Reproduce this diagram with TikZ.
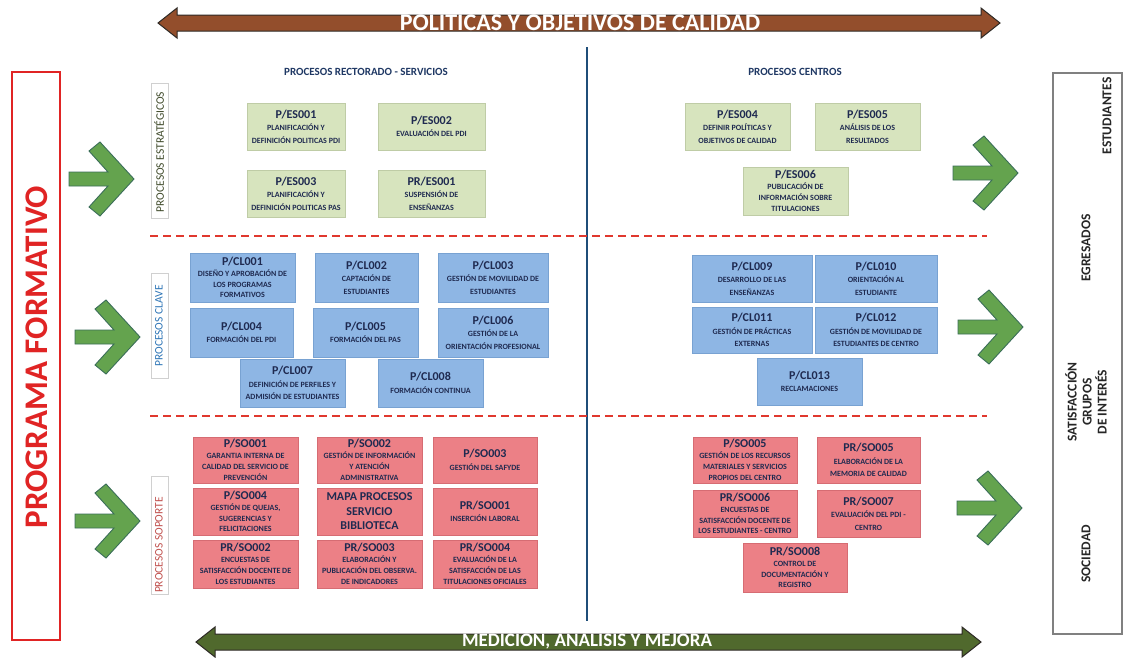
\documentclass[tikz,border=0pt]{standalone}
\usepackage{fontspec}
\setmainfont{Carlito}
\definecolor{navy}{HTML}{1F3864}
\definecolor{desccol}{HTML}{1F2A50}
\definecolor{esfill}{HTML}{D7E4BE}
\definecolor{esedge}{HTML}{BFCCA6}
\definecolor{clfill}{HTML}{8EB6E4}
\definecolor{cledge}{HTML}{78A2D2}
\definecolor{sofill}{HTML}{EC8086}
\definecolor{soedge}{HTML}{D66C73}
\definecolor{topbrown}{HTML}{934E2C}
\definecolor{botgreen}{HTML}{50692D}
\definecolor{arrdark}{HTML}{2E2A26}
\definecolor{agreen}{HTML}{64A34E}
\definecolor{aedge}{HTML}{3A6E58}
\definecolor{vline}{HTML}{1F4E79}
\definecolor{dashred}{HTML}{E0382E}
\definecolor{progred}{HTML}{E02424}
\definecolor{boxgray}{HTML}{808080}
\definecolor{labgray}{HTML}{D0D0D0}
\definecolor{esgreen}{HTML}{3F4A2A}
\definecolor{clblue}{HTML}{2E75B6}
\definecolor{sored}{HTML}{C0504D}
\definecolor{stake}{HTML}{262626}
\newcommand\pc[1]{{\fontsize{12}{12}\selectfont #1}}
\newcommand\pnode[7]{\node[#2, minimum width={#5-#3}, minimum height={#6-#4}] (#1) at ({(#3+#5)/2},{(#4+#6)/2}) {#7};}
\tikzset{
  pbox/.style={align=center, inner sep=0pt, text=desccol, font=\bfseries\fontsize{8}{12.5}\selectfont},
  dense/.style={font=\bfseries\fontsize{8}{10.8}\selectfont},
  esbox/.style={pbox, fill=esfill, draw=esedge, line width=0.8pt},
  clbox/.style={pbox, fill=clfill, draw=cledge, line width=0.8pt},
  sobox/.style={pbox, fill=sofill, draw=soedge, line width=0.8pt},
  sidetext/.style={rotate=90, font=\fontsize{11.5}{12}\selectfont, inner sep=0pt},
  sectitle/.style={text=navy, font=\bfseries\fontsize{11}{12}\selectfont, inner sep=0pt},
  stktext/.style={rotate=90, text=stake, align=center, font=\bfseries\fontsize{13.5}{15}\selectfont, inner sep=0pt},
  sep/.style={draw=dashred, line width=1.4pt, dash pattern=on 8pt off 5pt},
  garrow/.pic={
    \fill[agreen, draw=aedge, line width=0.9pt, line join=miter]
      (0,-7) -- (39,-7) -- (20,-28) -- (31,-37) -- (65,0) -- (31,37) -- (20,28) -- (39,7) -- (0,7) -- cycle;
  },
}
\begin{document}
\begin{tikzpicture}[x=1pt,y=-1pt]
\useasboundingbox[fill=white] (0,0) rectangle (1124,657);

% ---- top and bottom double arrows
\fill[topbrown, draw=arrdark, line width=1pt]
  (158,23) -- (177,8) -- (177,15) -- (981,15) -- (981,8) -- (1000,23) -- (981,38) -- (981,31) -- (177,31) -- (177,38) -- cycle;
\node[text=white, font=\bfseries\fontsize{24}{24}\selectfont, inner sep=0pt] (pol) at (580,23) {POLITICAS Y OBJETIVOS DE CALIDAD};

\fill[botgreen, draw=arrdark, line width=1pt]
  (196,642) -- (215,627) -- (215,634) -- (962,634) -- (962,627) -- (981,642) -- (962,657) -- (962,650) -- (215,650) -- (215,657) -- cycle;
\node[text=white, font=\bfseries\fontsize{19}{19}\selectfont, inner sep=0pt] (med) at (587,642) {MEDICION, ANALISIS Y MEJORA};

% ---- vertical divider and dashed separators
\coordinate (vtop) at (587,47);
\coordinate (vbot) at (587,621);
\draw[vline, line width=2pt] (vtop) -- (vbot);
\coordinate (d1a) at (150,236); \coordinate (d1b) at (987,236);
\coordinate (d2a) at (150,416); \coordinate (d2b) at (987,416);
\draw[sep] (d1a) -- (d1b);
\draw[sep] (d2a) -- (d2b);

% ---- left box
\draw[progred, line width=1.5pt] (12,72) rectangle (60,640);
\node[rotate=90, text=progred, font=\bfseries\fontsize{33}{33}\selectfont, inner sep=0pt] (prog) at (37,357) {PROGRAMA FORMATIVO};

% ---- right box
\draw[boxgray, line width=1.5pt] (1053,73) rectangle (1122,634);
\node[stktext] (estu) at (1107,116) {ESTUDIANTES};
\node[stktext] (egre) at (1086,248) {EGRESADOS};
\node[stktext] (sati) at (1086,402) {SATISFACCIÓN\\GRUPOS\\DE INTERÉS};
\node[stktext] (soci) at (1086,554) {SOCIEDAD};

% ---- green arrows
\pic at (69,179) {garrow};
\pic at (75,337) {garrow};
\pic at (75,521) {garrow};
\pic at (953,173) {garrow};
\pic at (958,327) {garrow};
\pic at (957,508) {garrow};

% ---- side labels
\draw[labgray, line width=0.6pt] (151,83) rectangle (168,218);
\node[sidetext, text=esgreen] (labes) at (159,152) {PROCESOS ESTRATÉGICOS};
\draw[labgray, line width=0.6pt] (151,273) rectangle (168,378);
\node[sidetext, text=clblue] (labcl) at (159,326) {PROCESOS CLAVE};
\draw[labgray, line width=0.6pt] (151,476) rectangle (168,594);
\node[sidetext, text=sored] (labso) at (159,545) {PROCESOS SOPORTE};

% ---- section titles
\node[sectitle] (tleft) at (366,72) {PROCESOS RECTORADO - SERVICIOS};
\node[sectitle] (tright) at (795,72) {PROCESOS CENTROS};

% ---- strategic
\pnode{es1}{esbox}{247}{103}{345}{150}{\pc{P/ES001}\\PLANIFICACIÓN Y\\DEFINICIÓN POLITICAS PDI}
\pnode{es2}{esbox}{378}{103}{485}{150}{\pc{P/ES002}\\EVALUACIÓN DEL PDI}
\pnode{es3}{esbox}{247}{170}{345}{217}{\pc{P/ES003}\\PLANIFICACIÓN Y\\DEFINICIÓN POLITICAS PAS}
\pnode{pres1}{esbox}{378}{170}{485}{217}{\pc{PR/ES001}\\SUSPENSIÓN DE\\ENSEÑANZAS}
\pnode{es4}{esbox}{685}{103}{790}{150}{\pc{P/ES004}\\DEFINIR POLÍTICAS Y\\OBJETIVOS DE CALIDAD}
\pnode{es5}{esbox}{815}{103}{920}{150}{\pc{P/ES005}\\ANÁLISIS DE LOS\\RESULTADOS}
\pnode{es6}{esbox,dense}{743}{167}{848}{215}{\pc{P/ES006}\\PUBLICACIÓN DE\\INFORMACIÓN SOBRE\\TITULACIONES}

% ---- key
\pnode{cl1}{clbox,dense}{190}{253}{295}{302}{\pc{P/CL001}\\DISEÑO Y APROBACIÓN DE\\LOS PROGRAMAS\\FORMATIVOS}
\pnode{cl2}{clbox}{315}{253}{418}{302}{\pc{P/CL002}\\CAPTACIÓN DE\\ESTUDIANTES}
\pnode{cl3}{clbox}{438}{253}{548}{302}{\pc{P/CL003}\\GESTIÓN DE MOVILIDAD DE\\ESTUDIANTES}
\pnode{cl4}{clbox}{190}{308}{293}{357}{\pc{P/CL004}\\FORMACIÓN DEL PDI}
\pnode{cl5}{clbox}{313}{308}{418}{357}{\pc{P/CL005}\\FORMACIÓN DEL PAS}
\pnode{cl6}{clbox}{438}{308}{548}{357}{\pc{P/CL006}\\GESTIÓN DE LA\\ORIENTACIÓN PROFESIONAL}
\pnode{cl7}{clbox}{240}{359}{345}{407}{\pc{P/CL007}\\DEFINICIÓN DE PERFILES Y\\ADMISIÓN DE ESTUDIANTES}
\pnode{cl8}{clbox}{378}{359}{483}{407}{\pc{P/CL008}\\FORMACIÓN CONTINUA}
\pnode{cl9}{clbox}{692}{255}{812}{302}{\pc{P/CL009}\\DESARROLLO DE LAS\\ENSEÑANZAS}
\pnode{cl10}{clbox}{815}{255}{937}{302}{\pc{P/CL010}\\ORIENTACIÓN AL\\ESTUDIANTE}
\pnode{cl11}{clbox}{692}{307}{812}{353}{\pc{P/CL011}\\GESTIÓN DE PRÁCTICAS\\EXTERNAS}
\pnode{cl12}{clbox}{815}{307}{937}{353}{\pc{P/CL012}\\GESTIÓN DE MOVILIDAD DE\\ESTUDIANTES DE CENTRO}
\pnode{cl13}{clbox}{757}{358}{862}{405}{\pc{P/CL013}\\RECLAMACIONES}

% ---- support
\pnode{so1}{sobox,dense}{193}{437}{298}{483}{\pc{P/SO001}\\GARANTIA INTERNA DE\\CALIDAD DEL SERVICIO DE\\PREVENCIÓN}
\pnode{so2}{sobox,dense}{317}{437}{422}{483}{\pc{P/SO002}\\GESTIÓN DE INFORMACIÓN\\Y ATENCIÓN\\ADMINISTRATIVA}
\pnode{so3}{sobox}{433}{437}{537}{483}{\pc{P/SO003}\\GESTIÓN DEL SAFYDE}
\pnode{so4}{sobox,dense}{193}{488}{298}{535}{\pc{P/SO004}\\GESTIÓN DE QUEJAS,\\SUGERENCIAS Y\\FELICITACIONES}
\pnode{mapa}{sobox,font=\bfseries\fontsize{12}{14.5}\selectfont}{317}{488}{422}{535}{MAPA PROCESOS\\SERVICIO\\BIBLIOTECA}
\pnode{prso1}{sobox}{433}{488}{537}{535}{\pc{PR/SO001}\\INSERCIÓN LABORAL}
\pnode{prso2}{sobox,dense}{193}{540}{298}{588}{\pc{PR/SO002}\\ENCUESTAS DE\\SATISFACCIÓN DOCENTE DE\\LOS ESTUDIANTES}
\pnode{prso3}{sobox,dense}{317}{540}{422}{588}{\pc{PR/SO003}\\ELABORACIÓN Y\\PUBLICACIÓN DEL OBSERVA.\\DE INDICADORES}
\pnode{prso4}{sobox,dense}{433}{540}{537}{588}{\pc{PR/SO004}\\EVALUACIÓN DE LA\\SATISFACCIÓN DE LAS\\TITULACIONES OFICIALES}
\pnode{so5}{sobox,dense}{693}{437}{797}{483}{\pc{P/SO005}\\GESTIÓN DE LOS RECURSOS\\MATERIALES Y SERVICIOS\\PROPIOS DEL CENTRO}
\pnode{prso5}{sobox}{817}{437}{920}{483}{\pc{PR/SO005}\\ELABORACIÓN DE LA\\MEMORIA DE CALIDAD}
\pnode{prso6}{sobox,dense}{693}{490}{797}{537}{\pc{PR/SO006}\\ENCUESTAS DE\\SATISFACCIÓN DOCENTE DE\\LOS ESTUDIANTES - CENTRO}
\pnode{prso7}{sobox}{817}{490}{920}{537}{\pc{PR/SO007}\\EVALUACIÓN DEL PDI -\\CENTRO}
\pnode{prso8}{sobox,dense}{743}{543}{847}{592}{\pc{PR/SO008}\\CONTROL DE\\DOCUMENTACIÓN Y\\REGISTRO}
\end{tikzpicture}
\end{document}
